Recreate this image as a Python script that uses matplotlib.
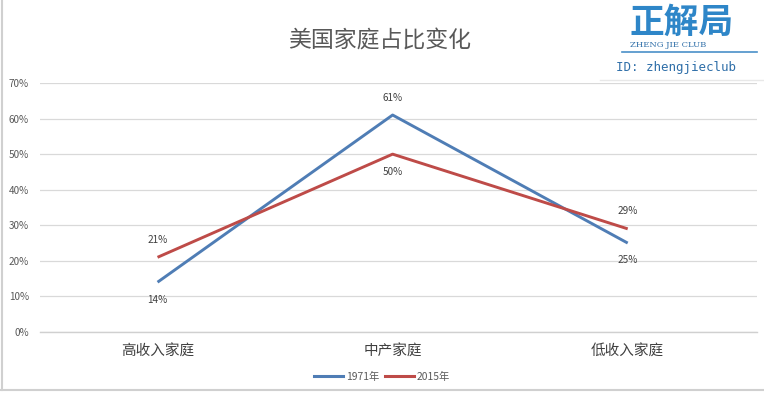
import matplotlib
matplotlib.use("Agg")
import matplotlib.pyplot as plt
from matplotlib.lines import Line2D

plt.rcParams['font.family'] = ['Noto Sans CJK SC', 'DejaVu Sans']

categories = ["高收入家庭", "中产家庭", "低收入家庭"]
series_names = ["1971年", "2015年"]
values_1971 = [14, 61, 25]
values_2015 = [21, 50, 29]
yticks = [0, 10, 20, 30, 40, 50, 60, 70]
title = "美国家庭占比变化"

W, H = 764, 395
fig = plt.figure(figsize=(W/100, H/100), dpi=100)
fig.patch.set_facecolor("white")

ax = fig.add_axes([40/W, 1-332/H, (757-40)/W, (332-83)/H])
x = list(range(len(categories)))
c1 = "#4F7DB5"
c2 = "#BE4B48"
ax.plot(x, values_1971, color=c1, lw=2.1, solid_capstyle='butt')
ax.plot(x, values_2015, color=c2, lw=2.1, solid_capstyle='butt')

ax.set_xlim(-0.5, 2.55)
ax.set_ylim(0, 70)
ax.set_yticks(yticks)
ax.set_yticklabels([f"{v}%" for v in yticks], fontsize=7.2, color="#595959")
ax.set_xticks(x)
ax.set_xticklabels(categories, fontsize=10.5, color="#404040")
ax.tick_params(axis='both', length=0)
ax.tick_params(axis='y', pad=8)
ax.tick_params(axis='x', pad=9)
ax.grid(axis='y', color="#D9D9D9", lw=0.9)
ax.set_axisbelow(True)
for s in ax.spines.values():
    s.set_visible(False)
ax.axhline(0, color="#D0D0D0", lw=1.0, clip_on=False, zorder=0)

offs_1971 = [-1, 1, -1]
offs_2015 = [1, -1, 1]
for xi, v, o in zip(x, values_1971, offs_1971):
    ax.annotate(f"{v}%", (xi, v), xytext=(0, 12.5*o), textcoords="offset points",
                ha="center", va="center", fontsize=7.2, color="#404040")
for xi, v, o in zip(x, values_2015, offs_2015):
    ax.annotate(f"{v}%", (xi, v), xytext=(0, 12.5*o), textcoords="offset points",
                ha="center", va="center", fontsize=7.2, color="#404040")

handles = [Line2D([], [], color=c1, lw=2.2), Line2D([], [], color=c2, lw=2.2)]
fig.legend(handles, series_names, loc="center", bbox_to_anchor=(382/W, 1-377/H),
           ncol=2, frameon=False, fontsize=7.4, handlelength=2.8, columnspacing=0.6,
           handletextpad=0.3, labelcolor="#595959")

fig.text(380/W, 1-40/H, title, ha="center", va="center", fontsize=16.5, color="#595959")

# logo
fig.text(682/W, 1-22/H, "正解局", ha="center", va="center", fontsize=25,
         color="#2E86C8", fontweight="bold", style="italic")
fig.text(668/W, 1-45/H, "ZHENG JIE CLUB", ha="center", va="center", fontsize=6,
         color="#2E6EA8", family="DejaVu Serif")
fig.add_artist(Line2D([622/W, 757/W], [1-52/H, 1-52/H], color="#4A90C8", lw=1.2))
fig.add_artist(Line2D([600/W, 764/W], [1-80/H, 1-80/H], color="#E8E8E8", lw=1.0))
fig.text(676/W, 1-67/H, "ID: zhengjieclub", ha="center", va="center", fontsize=9,
         color="#2E6EA8", family="DejaVu Sans Mono")

# frame lines
fig.add_artist(Line2D([2/W, 2/W], [1-390/H, 1.0], color="#D0D0D0", lw=1.5))
fig.add_artist(Line2D([0, 1], [1-390/H, 1-390/H], color="#D0D0D0", lw=1.5))

fig.savefig("out.png", dpi=100, facecolor="white")
